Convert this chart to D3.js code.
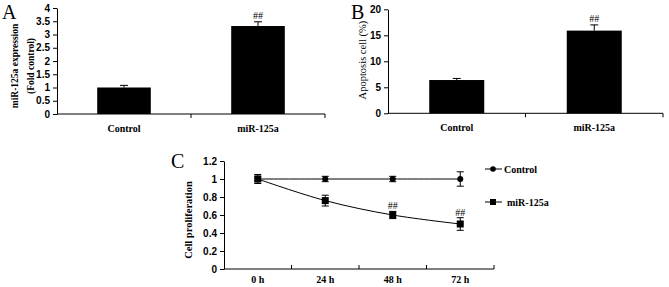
<!DOCTYPE html>
<html>
<head>
<meta charset="utf-8">
<script src="https://cdn.jsdelivr.net/npm/d3@7"></script>
<style>
  body { margin: 0; background: #fff; }
  svg { display: block; font-family: "Liberation Serif", "Times New Roman", serif; }
  .axis path, .axis line { stroke: #000; stroke-width: 1; }
  .axis text { font-size: 10px; font-weight: bold; fill: #000; }
</style>
</head>
<body>
<svg id="chart" width="669" height="287"></svg>
<script>
// Panel A: miR-125a expression
const groups = ['Control', 'miR-125a']
const expression = [1.0, 3.32]
const expressionErr = [0.08, 0.16]
const expressionTicks = [0, 0.5, 1, 1.5, 2, 2.5, 3, 3.5, 4]

// Panel B: apoptosis
const apoptosis = [6.4, 15.9]
const apoptosisErr = [0.3, 1.1]
const apoptosisTicks = [0, 5, 10, 15, 20]

// Panel C: proliferation over time
const timepoints = ['0 h', '24 h', '48 h', '72 h']
const controlProlif = [1.0, 1.0, 1.0, 1.0]
const controlProlifErr = [0.05, 0.03, 0.03, 0.08]
const mirProlif = [1.0, 0.76, 0.6, 0.5]
const mirProlifErr = [0.03, 0.06, 0.04, 0.07]
const prolifTicks = [0, 0.2, 0.4, 0.6, 0.8, 1, 1.2]
const significant = [false, false, true, true]

const svg = d3.select('#chart')

function fmt(v) {
    return String(v)
}

// bar panel with upward error bars
function barPanel(opts) {
    const g = svg.append('g')
    const x = d3.scaleBand().domain(groups).range([opts.left, opts.right])
    const y = d3.scaleLinear().domain(opts.domain).range([opts.bottom, opts.top])
    const barW = x.bandwidth() * 0.4

    g.append('g')
        .attr('class', 'axis')
        .attr('transform', `translate(${opts.left},0)`)
        .call(d3.axisLeft(y).tickValues(opts.ticks).tickFormat(fmt).tickSize(4).tickSizeOuter(0))

    // x axis: plain line with ticks at band edges
    const xAxis = g.append('g').attr('class', 'axis')
    xAxis.append('line')
        .attr('x1', opts.left).attr('x2', opts.right)
        .attr('y1', opts.bottom).attr('y2', opts.bottom)
    xAxis.selectAll('line.tk')
        .data(groups.slice(1).concat(['end']))
        .join('line')
        .attr('class', 'tk')
        .attr('x1', d => d === 'end' ? opts.right : x(d))
        .attr('x2', d => d === 'end' ? opts.right : x(d))
        .attr('y1', opts.bottom).attr('y2', opts.bottom + 4)
    xAxis.selectAll('text')
        .data(groups)
        .join('text')
        .attr('x', d => x(d) + x.bandwidth() / 2)
        .attr('y', opts.bottom + 18)
        .attr('text-anchor', 'middle')
        .text(d => d)

    g.selectAll('rect')
        .data(opts.values)
        .join('rect')
        .attr('x', (d, i) => x(groups[i]) + (x.bandwidth() - barW) / 2)
        .attr('y', d => y(d))
        .attr('width', barW)
        .attr('height', d => y(0) - y(d))
        .attr('fill', '#000')

    const err = g.selectAll('g.err')
        .data(opts.values)
        .join('g')
        .attr('class', 'err')
        .attr('stroke', '#000')
    err.append('line')
        .attr('x1', (d, i) => x(groups[i]) + x.bandwidth() / 2)
        .attr('x2', (d, i) => x(groups[i]) + x.bandwidth() / 2)
        .attr('y1', d => y(d))
        .attr('y2', (d, i) => y(d + opts.errors[i]))
    err.append('line')
        .attr('x1', (d, i) => x(groups[i]) + x.bandwidth() / 2 - 4)
        .attr('x2', (d, i) => x(groups[i]) + x.bandwidth() / 2 + 4)
        .attr('y1', (d, i) => y(d + opts.errors[i]))
        .attr('y2', (d, i) => y(d + opts.errors[i]))

    g.append('text')
        .attr('x', x(groups[1]) + x.bandwidth() / 2)
        .attr('y', y(opts.values[1] + opts.errors[1]) - 3)
        .attr('text-anchor', 'middle')
        .attr('font-size', 10)
        .text('##')

    g.append('text')
        .attr('x', opts.letterX).attr('y', 19)
        .attr('font-size', 20)
        .text(opts.letter)

    const lab = g.append('text')
        .attr('transform', `translate(${opts.labelX},${opts.labelY}) rotate(-90)`)
        .attr('text-anchor', 'middle')
        .attr('font-size', opts.labelSize)
        .attr('font-weight', opts.labelWeight)
    opts.label.forEach((line, i) => {
        lab.append('tspan').attr('x', 0).attr('dy', i === 0 ? 0 : 15.5).text(line)
    })
}

barPanel({
    left: 57, right: 325, top: 8, bottom: 114,
    domain: [0, 4], ticks: expressionTicks,
    values: expression, errors: expressionErr,
    letter: 'A', letterX: 2,
    label: ['miR-125a expression', '(Fold control)'], labelX: 18, labelY: 66,
    labelSize: 9.5, labelWeight: 'bold'
})

barPanel({
    left: 388, right: 663, top: 9.3, bottom: 113.3,
    domain: [0, 20], ticks: apoptosisTicks,
    values: apoptosis, errors: apoptosisErr,
    letter: 'B', letterX: 351,
    label: ['Apoptosis cell (%)'], labelX: 366, labelY: 60,
    labelSize: 10.5, labelWeight: 'normal'
})

// Panel C
const cLeft = 224, cRight = 494, cTop = 161, cBottom = 269
const xc = d3.scaleBand().domain(timepoints).range([cLeft, cRight])
const yc = d3.scaleLinear().domain([0, 1.2]).range([cBottom, cTop])
const cx = t => xc(t) + xc.bandwidth() / 2
const gc = svg.append('g')

gc.append('g')
    .attr('class', 'axis')
    .attr('transform', `translate(${cLeft},0)`)
    .call(d3.axisLeft(yc).tickValues(prolifTicks).tickFormat(fmt).tickSize(4).tickSizeOuter(0))

const xcAxis = gc.append('g').attr('class', 'axis')
xcAxis.append('line')
    .attr('x1', cLeft).attr('x2', cRight)
    .attr('y1', cBottom).attr('y2', cBottom)
xcAxis.selectAll('line.tk')
    .data(timepoints.slice(1).concat(['end']))
    .join('line')
    .attr('class', 'tk')
    .attr('x1', d => d === 'end' ? cRight : xc(d))
    .attr('x2', d => d === 'end' ? cRight : xc(d))
    .attr('y1', cBottom).attr('y2', cBottom - 4)
xcAxis.selectAll('text')
    .data(timepoints)
    .join('text')
    .attr('x', d => cx(d))
    .attr('y', cBottom + 14)
    .attr('text-anchor', 'middle')
    .text(d => d)

const line = d3.line()
    .x((d, i) => cx(timepoints[i]))
    .y(d => yc(d))
    .curve(d3.curveCatmullRom)

function series(values, errors, shape) {
    gc.append('path')
        .datum(values)
        .attr('d', line)
        .attr('fill', 'none')
        .attr('stroke', '#000')
        .attr('stroke-width', 1)

    const err = gc.append('g').attr('stroke', '#000')
    values.forEach((v, i) => {
        const px = cx(timepoints[i])
        err.append('line')
            .attr('x1', px).attr('x2', px)
            .attr('y1', yc(v - errors[i])).attr('y2', yc(v + errors[i]))
        ;[v - errors[i], v + errors[i]].forEach(e => {
            err.append('line')
                .attr('x1', px - 3.5).attr('x2', px + 3.5)
                .attr('y1', yc(e)).attr('y2', yc(e))
        })
    })

    const pts = gc.append('g')
    values.forEach((v, i) => {
        if (shape === 'circle') {
            pts.append('circle').attr('cx', cx(timepoints[i])).attr('cy', yc(v)).attr('r', 3)
        } else {
            pts.append('rect')
                .attr('x', cx(timepoints[i]) - 3.5).attr('y', yc(v) - 3.5)
                .attr('width', 7).attr('height', 7)
        }
    })
}

series(controlProlif, controlProlifErr, 'circle')
series(mirProlif, mirProlifErr, 'square')

mirProlif.forEach((v, i) => {
    if (!significant[i]) return
    gc.append('text')
        .attr('x', cx(timepoints[i]))
        .attr('y', yc(v + mirProlifErr[i]) - 2)
        .attr('text-anchor', 'middle')
        .attr('font-size', 10)
        .text('##')
})

gc.append('text')
    .attr('x', 171).attr('y', 168)
    .attr('font-size', 20)
    .text('C')

gc.append('text')
    .attr('transform', `translate(192,${(cTop + cBottom) / 2 + 5}) rotate(-90)`)
    .attr('text-anchor', 'middle')
    .attr('font-size', 10.5)
    .attr('font-weight', 'bold')
    .text('Cell proliferation')

// legend
const legendItems = [
    { name: 'Control', shape: 'circle', y: 169 },
    { name: 'miR-125a', shape: 'square', y: 202 }
]
const lg = gc.append('g')
legendItems.forEach(item => {
    lg.append('line')
        .attr('x1', 485).attr('x2', 502)
        .attr('y1', item.y).attr('y2', item.y)
        .attr('stroke', '#000')
    if (item.shape === 'circle') {
        lg.append('circle').attr('cx', 493).attr('cy', item.y).attr('r', 2.8)
    } else {
        lg.append('rect').attr('x', 490).attr('y', item.y - 3).attr('width', 6).attr('height', 6)
    }
    lg.append('text')
        .attr('x', item.shape === 'circle' ? 504 : 507)
        .attr('y', item.y + 3.5)
        .attr('font-size', 10)
        .attr('font-weight', 'bold')
        .text(item.name)
})
</script>
</body>
</html>
